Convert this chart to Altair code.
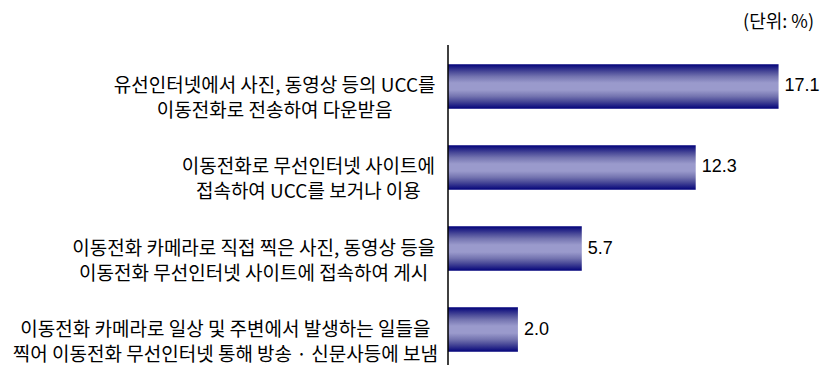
import altair as alt
import pandas as pd

# ---- data ----
line1 = [
    "유선인터넷에서 사진, 동영상 등의 UCC를",
    "이동전화로 무선인터넷 사이트에",
    "이동전화 카메라로 직접 찍은 사진, 동영상 등을",
    "이동전화 카메라로 일상 및 주변에서 발생하는 일들을",
]
line2 = [
    "이동전화로 전송하여 다운받음",
    "접속하여 UCC를 보거나 이용",
    "이동전화 무선인터넷 사이트에 접속하여 게시",
    "찍어 이동전화 무선인터넷 통해 방송 · 신문사등에 보냄",
]
values = [17.1, 12.3, 5.7, 2.0]
unit_text = "(단위: %)"

# ---- layout / style ----
LABEL_FS = 19
LABEL_FONT = "Noto Sans CJK KR"
GAP = 13  # gap between label block and axis line
XMIN, XMAX = -2.05, 19.5


def est_width(s, fs=LABEL_FS):
    w = 0.0
    for ch in s:
        if "\uac00" <= ch <= "\ud7a3":
            w += 0.92
        elif ch == " ":
            w += 0.224
        elif ch in ",.·":
            w += 0.26
        elif ch.isupper():
            w += 0.64
        else:
            w += 0.55
    return w * fs


cats = [f"c{i}" for i in range(len(values))]
df = pd.DataFrame({
    "cat": cats,
    "value": values,
    "label": [a + "\n" + b for a, b in zip(line1, line2)],
})
df["cx"] = [-GAP - max(est_width(a), est_width(b)) / 2 for a, b in zip(line1, line2)]

W, H = 372, 312
TOP = 44
gradient = alt.Gradient(
    gradient="linear",
    x1=0, x2=0, y1=0, y2=1,
    stops=[
        alt.GradientStop(color="#00007a", offset=0),
        alt.GradientStop(color="#1c1c84", offset=0.06),
        alt.GradientStop(color="#4a4a98", offset=0.17),
        alt.GradientStop(color="#7474b0", offset=0.28),
        alt.GradientStop(color="#9a9acc", offset=0.42),
        alt.GradientStop(color="#9a9acc", offset=0.58),
        alt.GradientStop(color="#7474b0", offset=0.72),
        alt.GradientStop(color="#4a4a98", offset=0.83),
        alt.GradientStop(color="#1c1c84", offset=0.94),
        alt.GradientStop(color="#00007a", offset=1),
    ],
)

yenc = alt.Y("cat:N", sort=cats, axis=None,
             scale=alt.Scale(paddingInner=0.45, paddingOuter=0.15))
xscale = alt.Scale(domain=[XMIN, XMAX], nice=False, zero=False)

base = alt.Chart(df)

bars = base.mark_bar(color=gradient).encode(
    y=yenc,
    x=alt.X("value:Q", scale=xscale, axis=None),
    x2=alt.datum(XMIN),
)

vals = base.mark_text(align="left", baseline="middle", dx=6, fontSize=18,
                      font="Liberation Sans", color="#000000").encode(
    y=yenc,
    x=alt.X("value:Q", scale=xscale, axis=None),
    text=alt.Text("value:Q", format=".1f"),
)

labels = base.mark_text(align="center", baseline="middle", fontSize=LABEL_FS,
                        font=LABEL_FONT, lineBreak="\n", lineHeight=25,
                        color="#000000").encode(
    y=yenc,
    x=alt.X("cx:Q", scale=None),
    text="label:N",
)

axis_line = alt.Chart(pd.DataFrame({"a": [0]})).mark_rule(
    color="#000000", strokeWidth=1.5).encode(
    x=alt.value(0), y=alt.value(-7), y2=alt.value(H + 14))

unit = alt.Chart(pd.DataFrame({"t": [unit_text]})).mark_text(
    align="right", baseline="middle", fontSize=18, font=LABEL_FONT,
    color="#000000").encode(
    x=alt.value(366), y=alt.value(-29), text="t:N")

chart = alt.layer(bars, vals, labels, axis_line, unit).properties(
    width=W, height=H,
    autosize=alt.AutoSizeParams(type="none"),
    padding={"left": 440, "top": TOP, "right": 4, "bottom": 14},
).configure_view(stroke=None)

chart.save("out.html", embed_options={"renderer": "svg", "actions": False})
